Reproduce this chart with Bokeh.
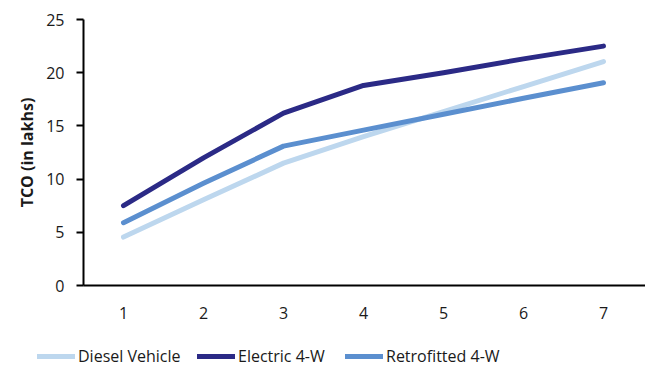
from bokeh.plotting import figure
from bokeh.models import Range1d, FixedTicker, Legend, LegendItem
from bokeh.embed import file_html
from bokeh.resources import INLINE

years = [1, 2, 3, 4, 5, 6, 7]
diesel = [4.55, 8.05, 11.5, 14.0, 16.35, 18.7, 21.05]
electric = [7.5, 12.0, 16.2, 18.8, 20.0, 21.3, 22.5]
retrofitted = [5.9, 9.6, 13.1, 14.6, 16.1, 17.6, 19.05]
series_names = ["Diesel Vehicle", "Electric 4-W", "Retrofitted 4-W"]
colors = ["#bdd7ee", "#2b2a86", "#5b8fcf"]
y_ticks = [0, 5, 10, 15, 20, 25]

FONT = "Open Sans"
TXT = "#1a1a1a"

p = figure(width=645, height=325, output_backend="svg", toolbar_location=None,
           x_range=Range1d(0.5, 7.525), y_range=Range1d(0, 25),
           min_border_left=83, min_border_right=0, min_border_top=19,
           min_border_bottom=40)
p.outline_line_color = None
p.xgrid.visible = False
p.ygrid.visible = False

series = [diesel, electric, retrofitted]
for vals, col in zip(series, colors):
    p.line(years, vals, line_color=col, line_width=5, line_cap="round", line_join="round")

# Axes
p.xaxis.ticker = FixedTicker(ticks=years)
p.xaxis.major_tick_line_color = None
p.xaxis.minor_tick_line_color = None
p.xaxis.axis_line_color = "black"
p.xaxis.axis_line_width = 2
p.xaxis.major_label_standoff = 15
p.xaxis.major_label_text_font = FONT
p.xaxis.major_label_text_font_size = "16px"
p.xaxis.major_label_text_color = TXT

p.yaxis.ticker = FixedTicker(ticks=y_ticks)
p.yaxis.minor_tick_line_color = None
p.yaxis.major_tick_in = 0
p.yaxis.major_tick_out = 7
p.yaxis.major_tick_line_color = "black"
p.yaxis.major_tick_line_width = 2
p.yaxis.axis_line_color = "black"
p.yaxis.axis_line_width = 2
p.yaxis.major_label_standoff = 12
p.yaxis.major_label_text_font = FONT
p.yaxis.major_label_text_font_size = "16px"
p.yaxis.major_label_text_color = TXT
p.yaxis.axis_label = "TCO (in lakhs)"
p.yaxis.axis_label_text_font = FONT
p.yaxis.axis_label_text_font_size = "16px"
p.yaxis.axis_label_text_font_style = "bold"
p.yaxis.axis_label_text_color = TXT
p.yaxis.axis_label_standoff = 5

# Legend strip below the chart (separate root, its frame fills it)
lg = figure(width=645, height=43, output_backend="svg", toolbar_location=None,
            x_range=Range1d(100, 101), y_range=Range1d(100, 101),
            x_axis_location=None, y_axis_location=None,
            min_border_left=0, min_border_right=0, min_border_top=0, min_border_bottom=0)
lg.outline_line_color = None
lg.xgrid.visible = False
lg.ygrid.visible = False

legend_x = [37, 197, 345]
for name, col, vals, lx in zip(series_names, colors, series, legend_x):
    # series drawn off-range here (clipped); used only as legend glyph source
    r = lg.line(years, vals, line_color=col, line_width=5, line_cap="round")
    leg = Legend(items=[LegendItem(label=name, renderers=[r])], location=(lx, 1))
    leg.border_line_color = None
    leg.background_fill_alpha = 0
    leg.label_text_font = FONT
    leg.label_text_font_size = "16px"
    leg.label_text_color = TXT
    leg.glyph_width = 38
    leg.glyph_height = 20
    leg.label_height = 20
    leg.label_standoff = 3
    leg.padding = 0
    leg.margin = 0
    lg.add_layout(leg, "center")

open("out.html", "w").write(file_html([p, lg], INLINE))
